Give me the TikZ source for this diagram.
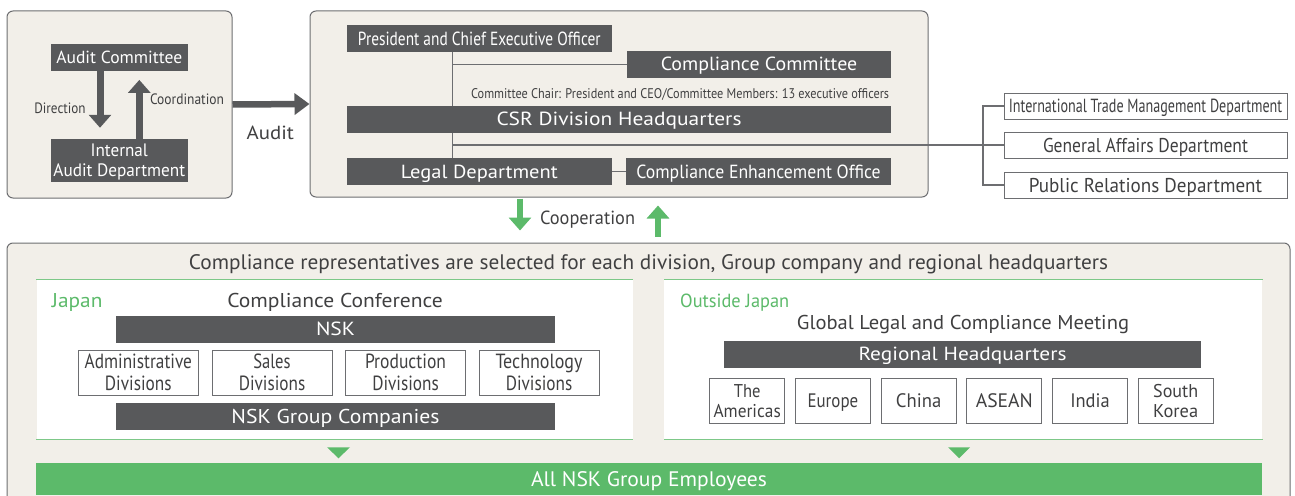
\documentclass[tikz,border=0pt]{standalone}
\usepackage{fontspec}
\setmainfont{PT Sans}
\usepackage{graphicx}
\usetikzlibrary{arrows.meta}
\definecolor{dg}{HTML}{58595B}
\definecolor{bgc}{HTML}{F2EFE9}
\definecolor{bd}{HTML}{6D6E71}
\definecolor{gr}{HTML}{5CBA6A}
\definecolor{tx}{HTML}{404041}
\newcommand{\tw}[2]{\raisebox{0pt}[\height][0pt]{\resizebox{#1pt}{\height}{#2}}}
\newcommand{\fs}[2]{\fontsize{#1}{#2}\selectfont}
\begin{document}
\begin{tikzpicture}[x=1pt,y=-1pt,
  fz/.code={\pgfmathsetmacro\fzh{0.7*#1}\edef\fztmp{\noexpand\tikzset{font=\noexpand\fs{#1}{#1},text height=\fzh pt,text depth=0pt}}\fztmp},
  dbox/.style={fill=dg,text=white,inner sep=0pt},
  dboxm/.style={fill=dg,text=white,inner sep=0pt,align=center},
  wbox/.style={draw=bd,fill=white,line width=0.9pt,text=tx,inner sep=0pt},
  wboxm/.style={draw=bd,fill=white,line width=0.9pt,text=tx,inner sep=0pt,align=center},
  panel/.style={fill=bgc,draw=bd,line width=1pt,rounded corners=6pt,inner sep=0pt},
  wpanel/.style={fill=white,inner sep=0pt},
  gline/.style={draw=gr!80,line width=1.3pt},
  lbl/.style={text=tx,inner sep=0pt},
  glbl/.style={text=gr,inner sep=0pt,anchor=west},
  conn/.style={draw=bd,line width=1.1pt},
  fatarrow/.style={draw=dg,line width=7pt,-{Triangle[length=13pt,width=22pt]}},
  grarrow/.style={draw=gr,line width=6.5pt,-{Triangle[length=13pt,width=22pt]}},
]
\useasboundingbox (0,0) rectangle (1295,495);
\clip (0,0) rectangle (1295,495);

% panels
\node[panel, minimum width=225, minimum height=187] (p1) at (119.5,104.5) {};
\node[panel, minimum width=618, minimum height=186] (p2) at (619,104) {};
\node[panel, minimum width=1283, minimum height=270] (p3) at (648.5,378) {};

% left panel
\node[dbox, fz=17.5, minimum width=136.7, minimum height=26.4] (ac) at (119.3,57.5) {\tw{126}{Audit Committee}};
\node[dboxm, font=\fs{18}{20}, minimum width=136.7, minimum height=42.7] (iad) at (119.3,160.3) {\tw{57.3}{Internal}\\\tw{131.7}{Audit Department}};
\draw[fatarrow] ([xshift=-19.3pt]ac.south) -- ([xshift=-19.3pt,yshift=11pt]iad.north);
\draw[fatarrow] ([xshift=20pt]iad.north) -- ([xshift=20pt,yshift=-9pt]ac.south);
\node[lbl, fz=15] (dir) at (60,108.3) {\tw{51.3}{Direction}};
\node[lbl, fz=15] (coord) at (187,99) {\tw{74}{Coordination}};
\draw[draw=dg,line width=6.5pt,-{Triangle[length=15pt,width=21pt]}] (p1.east) -- (p2.west);
\node[lbl, fz=19] (audit) at (270.3,133.3) {\tw{47.3}{Audit}};

% middle panel
\node[dbox, fz=19, minimum width=264.7, minimum height=26.5] (pceo) at (479.3,38.7) {\tw{242.7}{President and Chief Executive Officer}};
\node[dbox, fz=19, minimum width=264, minimum height=26.7] (cc) at (759,64.3) {\tw{196.5}{Compliance Committee}};
\node[lbl, fz=14] (chair) at (680.1,93.5) {\tw{418}{Committee Chair: President and CEO/Committee Members: 13 executive officers}};
\node[dbox, fz=19, minimum width=544, minimum height=26.7] (csr) at (619,119.3) {\tw{245}{CSR Division Headquarters}};
\node[dbox, fz=19, minimum width=264.7, minimum height=26.5] (legal) at (479.3,171.5) {\tw{157}{Legal Department}};
\node[dbox, fz=19, minimum width=264.5, minimum height=26.5] (ceoff) at (758.5,171.5) {\tw{244.3}{Compliance Enhancement Office}};

% external departments
\node[wbox, fz=19, minimum width=283, minimum height=26] (itm) at (1145.5,106) {\tw{273.4}{International Trade Management Department}};
\node[wbox, fz=20, minimum width=283, minimum height=26] (ga) at (1145.5,145) {\tw{205}{General Affairs Department}};
\node[wbox, fz=20, minimum width=283, minimum height=26] (pr) at (1145.5,185) {\tw{233.3}{Public Relations Department}};

% connectors
\coordinate (j1) at (452.7,145);
\coordinate (j2) at (983,145);
\draw[conn] (j1 |- pceo.south) -- (j1 |- csr.north);
\draw[conn] (j1 |- csr.south) -- (j1 |- legal.north);
\draw[conn] (j1 |- cc.west) -- (cc.west);
\draw[conn] (j1) -- (ga.west);
\draw[conn] (legal.east) -- (ceoff.west);
\draw[conn] (itm.west) -| (j2 |- pr.west) -- (pr.west);

% cooperation
\draw[grarrow] ([xshift=-99pt,yshift=-1pt]p2.south) -- ([xshift=-128.5pt,yshift=12pt]p3.north);
\draw[grarrow] ([xshift=9.5pt,yshift=6pt]p3.north) -- ([xshift=39pt,yshift=-8pt]p2.south);
\node[lbl, fz=19] (coop) at (587.5,218) {\tw{95}{Cooperation}};

% bottom panel
\node[lbl, fz=21] (title) at (648.5,261.7) {\tw{919}{Compliance representatives are selected for each division, Group company and regional headquarters}};

\node[wpanel, minimum width=596.4, minimum height=159.7] (jp) at (334.8,359.2) {};
\node[wpanel, minimum width=598, minimum height=159.7] (os) at (963.4,359.2) {};
\draw[gline] (jp.north west) -- (jp.north east);
\draw[gline] (jp.south west) -- (jp.south east);
\draw[gline] (os.north west) -- (os.north east);
\draw[gline] (os.south west) -- (os.south east);

% Japan
\node[glbl, fz=20] (jplbl) at (51.7,300.3) {\tw{50.6}{Japan}};
\node[lbl, fz=20] (cconf) at (335,300.3) {\tw{215.5}{Compliance Conference}};
\node[dbox, fz=19, minimum width=439, minimum height=26.7] (nsk) at (335.5,329.3) {\tw{39}{NSK}};
\node[wboxm, font=\fs{20.5}{21.7}, minimum width=120, minimum height=45] (adm) at (138.3,372.5) {\tw{107.3}{Administrative}\\\tw{66.7}{Divisions}};
\node[wboxm, font=\fs{20.5}{21.7}, minimum width=120, minimum height=45] (sal) at (272,372.5) {\tw{37.3}{Sales}\\\tw{66.5}{Divisions}};
\node[wboxm, font=\fs{20.5}{21.7}, minimum width=120, minimum height=45] (prd) at (405.5,372.5) {\tw{81}{Production}\\\tw{66.5}{Divisions}};
\node[wboxm, font=\fs{20.5}{21.7}, minimum width=120, minimum height=45] (tec) at (539,372.5) {\tw{87}{Technology}\\\tw{66.5}{Divisions}};
\node[dbox, fz=20, minimum width=439, minimum height=26.7] (nskgc) at (335.5,416.3) {\tw{208}{NSK Group Companies}};

% Outside Japan
\node[glbl, fz=19] (oslbl) at (680,300.7) {\tw{109}{Outside Japan}};
\node[lbl, fz=20] (glcm) at (963,322) {\tw{332}{Global Legal and Compliance Meeting}};
\node[dbox, fz=19, minimum width=477, minimum height=26.7] (rhq) at (962.5,354.3) {\tw{208}{Regional Headquarters}};
\node[wboxm, font=\fs{18.5}{20}, minimum width=75, minimum height=45] (am) at (747.2,400.8) {\tw{26.7}{The}\\\tw{67.3}{Americas}};
\node[wbox, fz=19.5, minimum width=75, minimum height=45] (eu) at (832.9,400.8) {\tw{50.7}{Europe}};
\node[wbox, fz=19.5, minimum width=75, minimum height=45] (cn) at (918.6,400.8) {\tw{45.3}{China}};
\node[wbox, fz=19.5, minimum width=75, minimum height=45] (asn) at (1004.3,400.8) {\tw{57}{ASEAN}};
\node[wbox, fz=19.5, minimum width=75, minimum height=45] (ind) at (1090,400.8) {\tw{39.5}{India}};
\node[wboxm, font=\fs{18.5}{20}, minimum width=75, minimum height=45] (sk) at (1175.7,400.8) {\tw{45}{South}\\\tw{45}{Korea}};

% all employees
\node[fill=gr, text=white, inner sep=0pt, fz=21, minimum width=1226, minimum height=31.7] (all) at (649,479.2) {\tw{236}{All NSK Group Employees}};
\fill[gr] ([xshift=-7.8pt,yshift=-8pt]jp.south) -- ([xshift=15.2pt,yshift=-8pt]jp.south) -- ([xshift=3.7pt,yshift=-19pt]jp.south) -- cycle;
\fill[gr] ([xshift=-15.4pt,yshift=-8pt]os.south) -- ([xshift=6.6pt,yshift=-8pt]os.south) -- ([xshift=-4.4pt,yshift=-19pt]os.south) -- cycle;
\end{tikzpicture}
\end{document}
